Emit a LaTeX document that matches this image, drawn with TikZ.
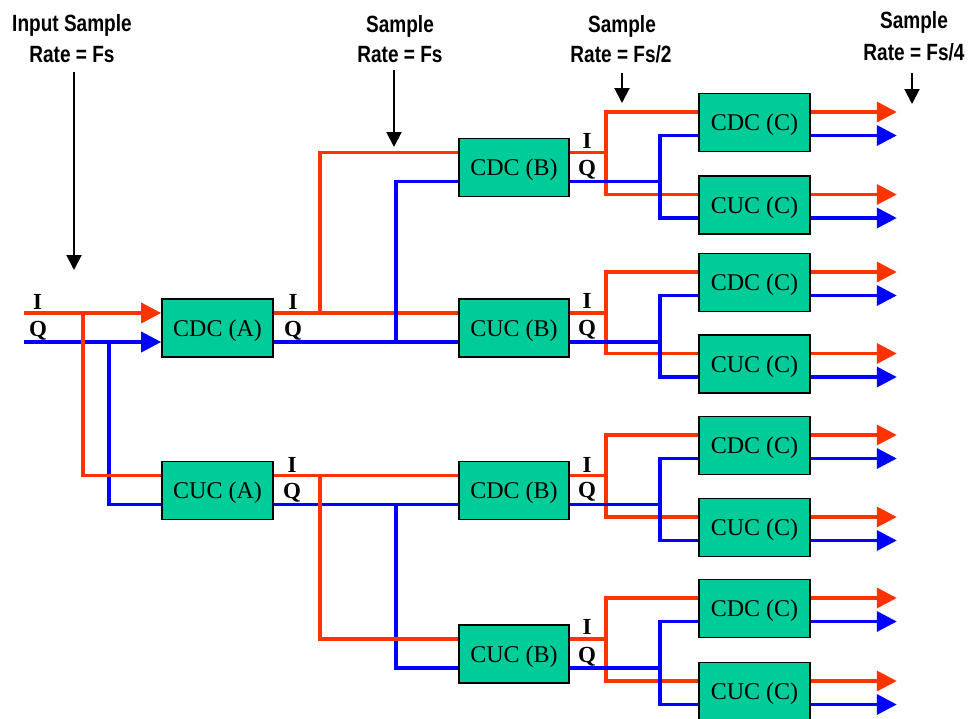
\documentclass[tikz,border=0pt]{standalone}
\usepackage{fontspec}
\setmainfont{Liberation Serif}
\newfontfamily\headfont[FakeStretch=0.81]{Liberation Sans}
\usetikzlibrary{calc,arrows.meta}
\pgfdeclarelayer{bg}
\pgfsetlayers{bg,main}
\definecolor{boxgreen}{RGB}{0,204,153}
\definecolor{sigred}{RGB}{255,51,0}
\definecolor{sigblue}{RGB}{0,0,255}
\tikzset{
  blk/.style={draw=black, line width=1.6pt, fill=boxgreen, minimum width=111pt,
    minimum height=58pt, inner sep=0pt, text height=16pt, text depth=0pt,
    font=\fontsize{24}{26}\selectfont},
  rline/.style={draw=sigred, line width=3.5pt},
  bline/.style={draw=sigblue, line width=3.5pt},
  arr/.style={-{Triangle[length=20pt,width=20pt]}},
  karr/.style={draw=black, line width=2pt, -{Triangle[length=15pt,width=15pt]}},
  iq/.style={font=\bfseries\fontsize{23}{24}\selectfont, inner sep=0pt, anchor=base},
  head/.style={font=\headfont\bfseries\fontsize{23.5}{26}\selectfont, inner sep=0pt, anchor=base},
}
\begin{document}
\begin{tikzpicture}[x=1pt,y=-1pt]
\path[use as bounding box] (0,0) rectangle (969,718);

% headings
\node[head] (h1a) at (72,31) {Input Sample};
\node[head] (h1b) at (72,62) {Rate = Fs};
\node[head] (h2a) at (400,32) {Sample};
\node[head] (h2b) at (400,62) {Rate = Fs};
\node[head] (h3a) at (622,32) {Sample};
\node[head] (h3b) at (621,62) {Rate = Fs/2};
\node[head] (h4a) at (914,28) {Sample};
\node[head] (h4b) at (914,60) {Rate = Fs/4};

\coordinate (k1s) at (74,72);   \coordinate (k1e) at (74,270);
\coordinate (k2s) at (394,70);  \coordinate (k2e) at (394,147);
\coordinate (k3s) at (622,73);  \coordinate (k3e) at (622,103);
\coordinate (k4s) at (912,73);  \coordinate (k4e) at (912,104);
\draw[karr] (k1s) -- (k1e);
\draw[karr] (k2s) -- (k2e);
\draw[karr] (k3s) -- (k3e);
\draw[karr] (k4s) -- (k4e);

% blocks
\node[blk] (A1) at (217.5,328) {CDC (A)};
\node[blk] (A2) at (217.5,490.5) {CUC (A)};
\node[blk, minimum width=110pt] (B1) at (514,167.5) {CDC (B)};
\node[blk, minimum width=110pt] (B2) at (514,328) {CUC (B)};
\node[blk, minimum width=110pt] (B3) at (514,490.5) {CDC (B)};
\node[blk, minimum width=110pt] (B4) at (514,654) {CUC (B)};
\node[blk] (C1) at (754.5,122.5) {CDC (C)};
\node[blk] (C2) at (754.5,205) {CUC (C)};
\node[blk] (C3) at (754.5,282.5) {CDC (C)};
\node[blk] (C4) at (754.5,364) {CUC (C)};
\node[blk] (C5) at (754.5,445.5) {CDC (C)};
\node[blk] (C6) at (754.5,527.5) {CUC (C)};
\node[blk] (C7) at (754.5,608.5) {CDC (C)};
\node[blk] (C8) at (754.5,691.5) {CUC (C)};

% ports
\foreach \n in {A1,A2,B1,B2,B3,B4} {
  \coordinate (\n-iw) at ($(\n.west)+(0,-15)$);
  \coordinate (\n-qw) at ($(\n.west)+(0,14)$);
  \coordinate (\n-ie) at ($(\n.east)+(0,-15)$);
  \coordinate (\n-qe) at ($(\n.east)+(0,14)$);
}
\foreach \n in {C1,C2,C3,C4,C5,C6,C7,C8} {
  \coordinate (\n-iw) at ($(\n.west)+(0,-10.5)$);
  \coordinate (\n-qw) at ($(\n.west)+(0,13)$);
  \coordinate (\n-ie) at ($(\n.east)+(0,-10.5)$);
  \coordinate (\n-qe) at ($(\n.east)+(0,13)$);
}

% I/Q labels
\node[iq] (lI0) at (37.5,309) {I};
\node[iq] (lQ0) at (38,336) {Q};
\node[iq] (lI1) at (293,309) {I};
\node[iq] (lQ1) at (293,336) {Q};
\node[iq] (lI2) at (292,472.5) {I};
\node[iq] (lQ2) at (292,498.5) {Q};
\node[iq] (lI3) at (587,148) {I};
\node[iq] (lQ3) at (587,175) {Q};
\node[iq] (lI4) at (587,308) {I};
\node[iq] (lQ4) at (587,335) {Q};
\node[iq] (lI5) at (587,472) {I};
\node[iq] (lQ5) at (587,497) {Q};
\node[iq] (lI6) at (587,634) {I};
\node[iq] (lQ6) at (587,662) {Q};

\begin{pgfonlayer}{bg}
% input
\coordinate (inI) at (24,313);
\coordinate (inQ) at (24,342);
\coordinate (sI) at (83,313);
\coordinate (sQ) at (109,342);
\draw[bline,arr] (inQ) -- (A1-qw);
\draw[bline] (sQ) |- (A2-qw);
\draw[rline,arr] (inI) -- (A1-iw);
\draw[rline] (sI) |- (A2-iw);

% A -> B
\coordinate (a1r) at ($(A1-ie)+(46,0)$);
\coordinate (a1b) at ($(A1-qe)+(122,0)$);
\coordinate (a2r) at ($(A2-ie)+(46,0)$);
\coordinate (a2b) at ($(A2-qe)+(122,0)$);
\draw[rline] (A1-ie) -- (B2-iw);
\draw[rline] (a1r) |- (B1-iw);
\draw[bline] (A1-qe) -- (B2-qw);
\draw[bline] (a1b) |- (B1-qw);
\draw[bline] (A2-qe) -- (B3-qw);
\draw[bline] (a2b) |- (B4-qw);
\draw[rline] (A2-ie) -- (B3-iw);
\draw[rline] (a2r) |- (B4-iw);

% B -> C
\foreach \b/\u/\d in {B1/C1/C2, B2/C3/C4, B3/C5/C6, B4/C7/C8} {
  \coordinate (\b-r) at ($(\b-ie)+(36,0)$);
  \coordinate (\b-b) at ($(\b-qe)+(90,0)$);
  \draw[rline] (\b-ie) -- (\b-r) (\u-iw) -| (\b-r) |- (\d-iw);
  \draw[bline] (\b-qe) -- (\b-b) (\u-qw) -| (\b-b) |- (\d-qw);
}

% outputs
\foreach \n in {C1,C2,C3,C4,C5,C6,C7,C8} {
  \draw[rline,arr] (\n-ie) -- ++(86,0);
  \draw[bline,arr] (\n-qe) -- ++(86,0);
}
\end{pgfonlayer}
\end{tikzpicture}
\end{document}
